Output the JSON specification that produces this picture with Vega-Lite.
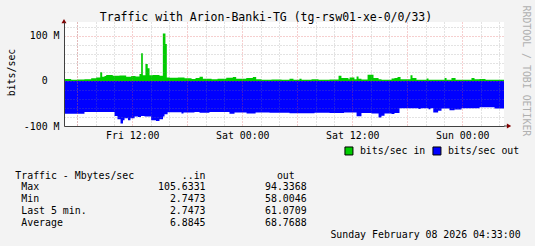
{
  "$schema": "https://vega.github.io/schema/vega-lite/v6.json",
  "width": 440,
  "height": 104,
  "autosize": {"type": "none"},
  "padding": {"left": 64, "top": 22, "right": 31, "bottom": 120},
  "background": "#f3f3f3",
  "config": {
    "view": {"fill": "#ffffff", "stroke": null},
    "font": "DejaVu Sans Mono",
    "axis": {"labelFont": "DejaVu Sans Mono", "titleFont": "DejaVu Sans Mono", "labelColor": "#000000", "titleColor": "#000000", "titleFontWeight": "normal"},
    "legend": {"labelFont": "DejaVu Sans Mono", "titleFont": "DejaVu Sans Mono"}
  },
  "title": {"text": "Traffic with Arion-Banki-TG (tg-rsw01-xe-0/0/33)", "font": "DejaVu Sans Mono", "fontSize": 11.5, "fontWeight": "normal", "color": "#000000", "anchor": "middle", "frame": "group", "dx": -18, "dy": 28, "baseline": "alphabetic", "offset": 1},
  "datasets": {
    "traffic": [
      {"t": "2026-02-06T04:33:00Z", "s": "bits/sec in", "v": 4.3},
      {"t": "2026-02-06T05:20:00Z", "s": "bits/sec in", "v": 2.5},
      {"t": "2026-02-06T06:01:00Z", "s": "bits/sec in", "v": 3.3},
      {"t": "2026-02-06T06:47:00Z", "s": "bits/sec in", "v": 3.6},
      {"t": "2026-02-06T07:31:00Z", "s": "bits/sec in", "v": 5.8},
      {"t": "2026-02-06T08:04:00Z", "s": "bits/sec in", "v": 8},
      {"t": "2026-02-06T08:30:00Z", "s": "bits/sec in", "v": 19.2},
      {"t": "2026-02-06T08:43:00Z", "s": "bits/sec in", "v": 9.5},
      {"t": "2026-02-06T08:58:00Z", "s": "bits/sec in", "v": 11},
      {"t": "2026-02-06T09:09:00Z", "s": "bits/sec in", "v": 13.2},
      {"t": "2026-02-06T09:52:00Z", "s": "bits/sec in", "v": 11.7},
      {"t": "2026-02-06T10:36:00Z", "s": "bits/sec in", "v": 12},
      {"t": "2026-02-06T11:20:00Z", "s": "bits/sec in", "v": 9.5},
      {"t": "2026-02-06T11:53:00Z", "s": "bits/sec in", "v": 11},
      {"t": "2026-02-06T12:21:00Z", "s": "bits/sec in", "v": 10},
      {"t": "2026-02-06T12:47:00Z", "s": "bits/sec in", "v": 15.4},
      {"t": "2026-02-06T12:58:00Z", "s": "bits/sec in", "v": 61.4},
      {"t": "2026-02-06T13:09:00Z", "s": "bits/sec in", "v": 12.5},
      {"t": "2026-02-06T13:26:00Z", "s": "bits/sec in", "v": 37.7},
      {"t": "2026-02-06T13:41:00Z", "s": "bits/sec in", "v": 28},
      {"t": "2026-02-06T13:53:00Z", "s": "bits/sec in", "v": 12.5},
      {"t": "2026-02-06T14:14:00Z", "s": "bits/sec in", "v": 13.2},
      {"t": "2026-02-06T14:58:00Z", "s": "bits/sec in", "v": 11.7},
      {"t": "2026-02-06T15:20:00Z", "s": "bits/sec in", "v": 105.6},
      {"t": "2026-02-06T15:37:00Z", "s": "bits/sec in", "v": 82},
      {"t": "2026-02-06T15:46:00Z", "s": "bits/sec in", "v": 8},
      {"t": "2026-02-06T16:04:00Z", "s": "bits/sec in", "v": 7.3},
      {"t": "2026-02-06T16:58:00Z", "s": "bits/sec in", "v": 8},
      {"t": "2026-02-06T17:42:00Z", "s": "bits/sec in", "v": 5.8},
      {"t": "2026-02-06T18:28:00Z", "s": "bits/sec in", "v": 4.5},
      {"t": "2026-02-06T18:54:00Z", "s": "bits/sec in", "v": 6.5},
      {"t": "2026-02-06T19:20:00Z", "s": "bits/sec in", "v": 9.5},
      {"t": "2026-02-06T19:42:00Z", "s": "bits/sec in", "v": 5.1},
      {"t": "2026-02-06T20:39:00Z", "s": "bits/sec in", "v": 4},
      {"t": "2026-02-06T21:18:00Z", "s": "bits/sec in", "v": 5},
      {"t": "2026-02-06T22:15:00Z", "s": "bits/sec in", "v": 7.3},
      {"t": "2026-02-06T22:58:00Z", "s": "bits/sec in", "v": 8.8},
      {"t": "2026-02-06T23:20:00Z", "s": "bits/sec in", "v": 5.1},
      {"t": "2026-02-07T00:26:00Z", "s": "bits/sec in", "v": 6.5},
      {"t": "2026-02-07T01:09:00Z", "s": "bits/sec in", "v": 8.8},
      {"t": "2026-02-07T01:31:00Z", "s": "bits/sec in", "v": 3.6},
      {"t": "2026-02-07T02:06:00Z", "s": "bits/sec in", "v": 3},
      {"t": "2026-02-07T03:11:00Z", "s": "bits/sec in", "v": 3.5},
      {"t": "2026-02-07T04:17:00Z", "s": "bits/sec in", "v": 2.8},
      {"t": "2026-02-07T05:09:00Z", "s": "bits/sec in", "v": 5},
      {"t": "2026-02-07T05:35:00Z", "s": "bits/sec in", "v": 3},
      {"t": "2026-02-07T06:14:00Z", "s": "bits/sec in", "v": 5},
      {"t": "2026-02-07T06:28:00Z", "s": "bits/sec in", "v": 3},
      {"t": "2026-02-07T07:33:00Z", "s": "bits/sec in", "v": 4},
      {"t": "2026-02-07T08:19:00Z", "s": "bits/sec in", "v": 3},
      {"t": "2026-02-07T09:31:00Z", "s": "bits/sec in", "v": 3.5},
      {"t": "2026-02-07T10:30:00Z", "s": "bits/sec in", "v": 11.7},
      {"t": "2026-02-07T10:49:00Z", "s": "bits/sec in", "v": 6.5},
      {"t": "2026-02-07T11:35:00Z", "s": "bits/sec in", "v": 4},
      {"t": "2026-02-07T11:42:00Z", "s": "bits/sec in", "v": 8},
      {"t": "2026-02-07T12:14:00Z", "s": "bits/sec in", "v": 4},
      {"t": "2026-02-07T12:28:00Z", "s": "bits/sec in", "v": 10},
      {"t": "2026-02-07T12:41:00Z", "s": "bits/sec in", "v": 5},
      {"t": "2026-02-07T13:00:00Z", "s": "bits/sec in", "v": 3.5},
      {"t": "2026-02-07T13:40:00Z", "s": "bits/sec in", "v": 14},
      {"t": "2026-02-07T14:19:00Z", "s": "bits/sec in", "v": 6.5},
      {"t": "2026-02-07T14:52:00Z", "s": "bits/sec in", "v": 4},
      {"t": "2026-02-07T15:11:00Z", "s": "bits/sec in", "v": 3},
      {"t": "2026-02-07T16:17:00Z", "s": "bits/sec in", "v": 5.5},
      {"t": "2026-02-07T16:36:00Z", "s": "bits/sec in", "v": 6.5},
      {"t": "2026-02-07T16:56:00Z", "s": "bits/sec in", "v": 8.8},
      {"t": "2026-02-07T17:16:00Z", "s": "bits/sec in", "v": 4},
      {"t": "2026-02-07T18:21:00Z", "s": "bits/sec in", "v": 12.5},
      {"t": "2026-02-07T18:34:00Z", "s": "bits/sec in", "v": 6.5},
      {"t": "2026-02-07T19:00:00Z", "s": "bits/sec in", "v": 3},
      {"t": "2026-02-07T20:06:00Z", "s": "bits/sec in", "v": 5.5},
      {"t": "2026-02-07T20:19:00Z", "s": "bits/sec in", "v": 3},
      {"t": "2026-02-07T22:04:00Z", "s": "bits/sec in", "v": 6.5},
      {"t": "2026-02-07T22:17:00Z", "s": "bits/sec in", "v": 3},
      {"t": "2026-02-07T22:49:00Z", "s": "bits/sec in", "v": 6.5},
      {"t": "2026-02-07T23:16:00Z", "s": "bits/sec in", "v": 3},
      {"t": "2026-02-08T01:00:00Z", "s": "bits/sec in", "v": 6.5},
      {"t": "2026-02-08T01:20:00Z", "s": "bits/sec in", "v": 4},
      {"t": "2026-02-08T01:53:00Z", "s": "bits/sec in", "v": 4.3},
      {"t": "2026-02-08T02:32:00Z", "s": "bits/sec in", "v": 2.8},
      {"t": "2026-02-08T04:33:00Z", "s": "bits/sec in", "v": 2.75},
      {"t": "2026-02-06T04:33:00Z", "s": "bits/sec out", "v": -73},
      {"t": "2026-02-06T06:47:00Z", "s": "bits/sec out", "v": -69},
      {"t": "2026-02-06T10:04:00Z", "s": "bits/sec out", "v": -78},
      {"t": "2026-02-06T10:23:00Z", "s": "bits/sec out", "v": -85},
      {"t": "2026-02-06T10:43:00Z", "s": "bits/sec out", "v": -94.3},
      {"t": "2026-02-06T10:59:00Z", "s": "bits/sec out", "v": -87},
      {"t": "2026-02-06T11:09:00Z", "s": "bits/sec out", "v": -83},
      {"t": "2026-02-06T11:32:00Z", "s": "bits/sec out", "v": -87},
      {"t": "2026-02-06T11:48:00Z", "s": "bits/sec out", "v": -83},
      {"t": "2026-02-06T12:15:00Z", "s": "bits/sec out", "v": -79},
      {"t": "2026-02-06T12:37:00Z", "s": "bits/sec out", "v": -80},
      {"t": "2026-02-06T12:57:00Z", "s": "bits/sec out", "v": -78},
      {"t": "2026-02-06T13:20:00Z", "s": "bits/sec out", "v": -79},
      {"t": "2026-02-06T14:03:00Z", "s": "bits/sec out", "v": -87},
      {"t": "2026-02-06T14:35:00Z", "s": "bits/sec out", "v": -89},
      {"t": "2026-02-06T14:58:00Z", "s": "bits/sec out", "v": -85},
      {"t": "2026-02-06T15:21:00Z", "s": "bits/sec out", "v": -79},
      {"t": "2026-02-06T15:31:00Z", "s": "bits/sec out", "v": -74},
      {"t": "2026-02-06T15:51:00Z", "s": "bits/sec out", "v": -69.5},
      {"t": "2026-02-06T17:22:00Z", "s": "bits/sec out", "v": -72},
      {"t": "2026-02-06T17:35:00Z", "s": "bits/sec out", "v": -70},
      {"t": "2026-02-06T18:47:00Z", "s": "bits/sec out", "v": -69},
      {"t": "2026-02-06T19:20:00Z", "s": "bits/sec out", "v": -70.5},
      {"t": "2026-02-06T20:25:00Z", "s": "bits/sec out", "v": -69},
      {"t": "2026-02-06T22:36:00Z", "s": "bits/sec out", "v": -73},
      {"t": "2026-02-06T23:09:00Z", "s": "bits/sec out", "v": -70},
      {"t": "2026-02-07T00:28:00Z", "s": "bits/sec out", "v": -72},
      {"t": "2026-02-07T01:27:00Z", "s": "bits/sec out", "v": -70},
      {"t": "2026-02-07T02:58:00Z", "s": "bits/sec out", "v": -70.5},
      {"t": "2026-02-07T05:09:00Z", "s": "bits/sec out", "v": -71.5},
      {"t": "2026-02-07T07:53:00Z", "s": "bits/sec out", "v": -70.5},
      {"t": "2026-02-07T09:31:00Z", "s": "bits/sec out", "v": -71},
      {"t": "2026-02-07T11:06:00Z", "s": "bits/sec out", "v": -70},
      {"t": "2026-02-07T12:28:00Z", "s": "bits/sec out", "v": -78.6},
      {"t": "2026-02-07T13:00:00Z", "s": "bits/sec out", "v": -71},
      {"t": "2026-02-07T14:06:00Z", "s": "bits/sec out", "v": -72},
      {"t": "2026-02-07T14:52:00Z", "s": "bits/sec out", "v": -81},
      {"t": "2026-02-07T15:11:00Z", "s": "bits/sec out", "v": -77},
      {"t": "2026-02-07T15:31:00Z", "s": "bits/sec out", "v": -72},
      {"t": "2026-02-07T16:17:00Z", "s": "bits/sec out", "v": -73.5},
      {"t": "2026-02-07T16:36:00Z", "s": "bits/sec out", "v": -71},
      {"t": "2026-02-07T17:09:00Z", "s": "bits/sec out", "v": -60.5},
      {"t": "2026-02-07T19:13:00Z", "s": "bits/sec out", "v": -62},
      {"t": "2026-02-07T19:27:00Z", "s": "bits/sec out", "v": -60.5},
      {"t": "2026-02-07T20:19:00Z", "s": "bits/sec out", "v": -63},
      {"t": "2026-02-07T20:32:00Z", "s": "bits/sec out", "v": -60.5},
      {"t": "2026-02-07T20:50:00Z", "s": "bits/sec out", "v": -70},
      {"t": "2026-02-07T21:22:00Z", "s": "bits/sec out", "v": -66},
      {"t": "2026-02-07T21:44:00Z", "s": "bits/sec out", "v": -61},
      {"t": "2026-02-07T22:36:00Z", "s": "bits/sec out", "v": -65},
      {"t": "2026-02-07T23:09:00Z", "s": "bits/sec out", "v": -63.5},
      {"t": "2026-02-07T23:55:00Z", "s": "bits/sec out", "v": -60.5},
      {"t": "2026-02-08T01:53:00Z", "s": "bits/sec out", "v": -58.5},
      {"t": "2026-02-08T03:31:00Z", "s": "bits/sec out", "v": -61},
      {"t": "2026-02-08T04:33:00Z", "s": "bits/sec out", "v": -61}
    ]
  },
  "layer": [
    {
      "data": {"name": "traffic"},
      "mark": {"type": "area", "interpolate": "step-after", "opacity": 1},
      "encoding": {
        "x": {
          "field": "t", "type": "temporal",
          "scale": {"type": "utc", "domain": [{"year": 2026, "month": 2, "date": 6, "hours": 4, "minutes": 33, "utc": true}, {"year": 2026, "month": 2, "date": 8, "hours": 4, "minutes": 33, "utc": true}]},
          "axis": {
            "orient": "bottom",
            "zindex": 1,
            "values": [
              {"year": 2026, "month": 2, "date": 6, "hours": 12, "utc": true},
              {"year": 2026, "month": 2, "date": 7, "hours": 0, "utc": true},
              {"year": 2026, "month": 2, "date": 7, "hours": 12, "utc": true},
              {"year": 2026, "month": 2, "date": 8, "hours": 0, "utc": true}
            ],
            "format": "%a %H:%M",
            "grid": false,
            "ticks": false,
            "tickSize": 0,
            "domainColor": "#404040",
            "labelFontSize": 9.9,
            "labelPadding": 12.5,
            "labelBaseline": "alphabetic",
            "labelOverlap": false,
            "labelFlush": false,
            "title": [
              "Traffic\u00a0-\u00a0Mbytes/sec\u00a0\u00a0\u00a0\u00a0\u00a0\u00a0\u00a0\u00a0..in\u00a0\u00a0\u00a0\u00a0\u00a0\u00a0\u00a0\u00a0\u00a0\u00a0\u00a0\u00a0out",
              "\u200b\u00a0Max\u00a0\u00a0\u00a0\u00a0\u00a0\u00a0\u00a0\u00a0\u00a0\u00a0\u00a0\u00a0\u00a0\u00a0\u00a0\u00a0\u00a0\u00a0\u00a0\u00a0105.6331\u00a0\u00a0\u00a0\u00a0\u00a0\u00a0\u00a0\u00a0\u00a0\u00a094.3368",
              "\u200b\u00a0Min\u00a0\u00a0\u00a0\u00a0\u00a0\u00a0\u00a0\u00a0\u00a0\u00a0\u00a0\u00a0\u00a0\u00a0\u00a0\u00a0\u00a0\u00a0\u00a0\u00a0\u00a0\u00a02.7473\u00a0\u00a0\u00a0\u00a0\u00a0\u00a0\u00a0\u00a0\u00a0\u00a058.0046",
              "\u200b\u00a0Last\u00a05\u00a0min.\u00a0\u00a0\u00a0\u00a0\u00a0\u00a0\u00a0\u00a0\u00a0\u00a0\u00a0\u00a0\u00a0\u00a02.7473\u00a0\u00a0\u00a0\u00a0\u00a0\u00a0\u00a0\u00a0\u00a0\u00a061.0709",
              "\u200b\u00a0Average\u00a0\u00a0\u00a0\u00a0\u00a0\u00a0\u00a0\u00a0\u00a0\u00a0\u00a0\u00a0\u00a0\u00a0\u00a0\u00a0\u00a0\u00a06.8845\u00a0\u00a0\u00a0\u00a0\u00a0\u00a0\u00a0\u00a0\u00a0\u00a068.7688",
              "\u200b\u00a0\u00a0\u00a0\u00a0\u00a0\u00a0\u00a0\u00a0\u00a0\u00a0\u00a0\u00a0\u00a0\u00a0\u00a0\u00a0\u00a0\u00a0\u00a0\u00a0\u00a0\u00a0\u00a0\u00a0\u00a0\u00a0\u00a0\u00a0\u00a0\u00a0\u00a0\u00a0\u00a0\u00a0\u00a0\u00a0\u00a0\u00a0\u00a0\u00a0\u00a0\u00a0\u00a0\u00a0\u00a0\u00a0\u00a0\u00a0\u00a0\u00a0\u00a0\u00a0\u00a0Sunday\u00a0February\u00a008\u00a02026\u00a004:33:00"
            ],
            "titleX": -49.2,
            "titleY": 52,
            "titleAlign": "left",
            "titleAnchor": "start",
            "titleBaseline": "alphabetic",
            "titleFontSize": 9.9,
            "titleLineHeight": 11.9,
            "titleFontWeight": "normal"
          }
        },
        "y": {
          "field": "v", "type": "quantitative", "stack": null,
          "scale": {"domain": [-100, 131], "nice": false, "zero": false},
          "axis": {
            "zindex": 1,
            "values": [-100, -80, -60, -40, -20, 0, 20, 40, 60, 80, 100, 120],
            "grid": true,
            "gridColor": {"condition": {"test": "datum.value % 100 === 0", "value": "#e05050"}, "value": "#808080"},
            "gridOpacity": {"condition": {"test": "datum.value % 100 === 0", "value": 0.55}, "value": 0.45},
            "gridDash": [1, 2],
            "ticks": false,
            "tickSize": 0,
            "domainColor": "#404040",
            "labelExpr": "datum.value === 100 ? '100\u00a0M' : datum.value === -100 ? '-100\u00a0M' : datum.value === 0 ? '0\u00a0\u00a0\u200b' : ''",
            "labelFontSize": 9.9,
            "labelPadding": 5,
            "labelOverlap": false,
            "labelFlush": false,
            "title": "bits/sec",
            "titleX": -53,
            "titleY": 50,
            "titleAngle": 270,
            "titleAlign": "center",
            "titleBaseline": "middle",
            "titleFontSize": 9.9,
            "titleFontWeight": "normal"
          }
        },
        "color": {
          "field": "s", "type": "nominal",
          "scale": {"domain": ["bits/sec in", "bits/sec out"], "range": ["#00cc00", "#0000ff"]},
          "legend": {
            "orient": "none", "legendX": 280, "legendY": 124, "direction": "horizontal", "title": null,
            "symbolType": "square", "symbolSize": 64, "symbolStrokeColor": "#000000", "symbolStrokeWidth": 1, "symbolOpacity": 1,
            "labelFontSize": 9.9, "labelColor": "#000000", "labelOffset": 6, "columnPadding": 4, "padding": 0, "offset": 0
          }
        }
      }
    },
    {
      "data": {"values": [{}]},
      "mark": {"type": "point", "shape": "triangle-up", "filled": true, "size": 25, "color": "#800000", "opacity": 1},
      "encoding": {
        "x": {
          "datum": {"year": 2026, "month": 2, "date": 6, "hours": 4, "minutes": 33, "utc": true}, "type": "temporal",
          "axis": {
            "orient": "bottom", "zindex": 1,
            "values": [
              {"year": 2026, "month": 2, "date": 6, "hours": 6, "utc": true},
              {"year": 2026, "month": 2, "date": 6, "hours": 8, "utc": true},
              {"year": 2026, "month": 2, "date": 6, "hours": 10, "utc": true},
              {"year": 2026, "month": 2, "date": 6, "hours": 14, "utc": true},
              {"year": 2026, "month": 2, "date": 6, "hours": 16, "utc": true},
              {"year": 2026, "month": 2, "date": 6, "hours": 20, "utc": true},
              {"year": 2026, "month": 2, "date": 6, "hours": 22, "utc": true},
              {"year": 2026, "month": 2, "date": 7, "hours": 2, "utc": true},
              {"year": 2026, "month": 2, "date": 7, "hours": 4, "utc": true},
              {"year": 2026, "month": 2, "date": 7, "hours": 8, "utc": true},
              {"year": 2026, "month": 2, "date": 7, "hours": 10, "utc": true},
              {"year": 2026, "month": 2, "date": 7, "hours": 14, "utc": true},
              {"year": 2026, "month": 2, "date": 7, "hours": 16, "utc": true},
              {"year": 2026, "month": 2, "date": 7, "hours": 20, "utc": true},
              {"year": 2026, "month": 2, "date": 7, "hours": 22, "utc": true},
              {"year": 2026, "month": 2, "date": 8, "hours": 2, "utc": true},
              {"year": 2026, "month": 2, "date": 8, "hours": 4, "utc": true}
            ],
            "grid": true, "gridColor": "#808080", "gridOpacity": 0.45, "gridDash": [1, 2],
            "labels": false, "ticks": false, "domain": false, "title": null
          }
        },
        "y": {"datum": 133, "type": "quantitative", "axis": {"orient": "right", "labels": false, "ticks": false, "domain": false, "grid": false, "title": "RRDTOOL / TOBI OETIKER", "titleX": 21, "titleY": -17, "titleAngle": 90, "titleAlign": "left", "titleBaseline": "middle", "titleFontSize": 9.9, "titleFontWeight": "normal", "titleColor": "#b0b0b0"}}
      }
    },
    {
      "data": {"values": [{}]},
      "mark": {"type": "rule", "color": "#404040"},
      "encoding": {
        "x": {
          "datum": {"year": 2026, "month": 2, "date": 8, "hours": 4, "minutes": 33, "utc": true}, "type": "temporal",
          "axis": {
            "orient": "bottom", "zindex": 1,
            "values": [
              {"year": 2026, "month": 2, "date": 6, "hours": 6, "utc": true},
              {"year": 2026, "month": 2, "date": 6, "hours": 12, "utc": true},
              {"year": 2026, "month": 2, "date": 6, "hours": 18, "utc": true},
              {"year": 2026, "month": 2, "date": 7, "hours": 0, "utc": true},
              {"year": 2026, "month": 2, "date": 7, "hours": 6, "utc": true},
              {"year": 2026, "month": 2, "date": 7, "hours": 12, "utc": true},
              {"year": 2026, "month": 2, "date": 7, "hours": 18, "utc": true},
              {"year": 2026, "month": 2, "date": 8, "hours": 0, "utc": true}
            ],
            "grid": true, "gridColor": "#e05050", "gridOpacity": 0.55, "gridDash": [1, 2],
            "labels": false, "ticks": false, "domain": false, "title": null
          }
        },
        "x2": {"datum": {"year": 2026, "month": 2, "date": 8, "hours": 5, "minutes": 0, "utc": true}},
        "y": {"datum": -100, "type": "quantitative", "axis": null}
      }
    },
    {
      "data": {"values": [{}]},
      "mark": {"type": "point", "shape": "triangle-right", "filled": true, "size": 25, "color": "#800000", "opacity": 1},
      "encoding": {
        "x": {"datum": {"year": 2026, "month": 2, "date": 8, "hours": 5, "minutes": 6, "utc": true}, "type": "temporal", "axis": null},
        "y": {"datum": -100, "type": "quantitative", "axis": null}
      }
    }
  ],
  "resolve": {"axis": {"x": "independent", "y": "independent"}}
}
